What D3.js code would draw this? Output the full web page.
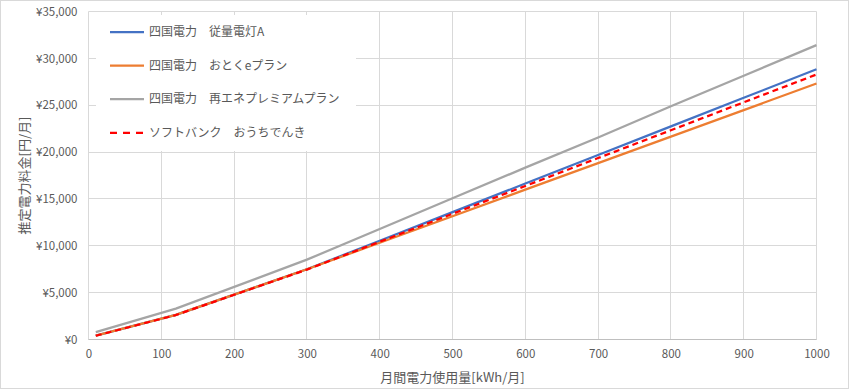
<!DOCTYPE html>
<html>
<head>
<meta charset="utf-8">
<script src="https://cdn.jsdelivr.net/npm/d3@7"></script>
<style>
  body { margin: 0; background: #fff; }
  svg text { font-family: "Noto Sans CJK JP", "Noto Sans", sans-serif; fill: #595959; }
</style>
</head>
<body>
<svg id="chart" width="849" height="390"></svg>
<script>
// usage points (kWh/month)
var usage = [10, 120, 300, 400, 500, 600, 700, 800, 900, 1000];

var juuryouA   = [412, 2630, 7490, 10540, 13590, 16640, 19690, 22740, 25790, 28840];
var otokuE     = [412, 2630, 7490, 10320, 13150, 15990, 18820, 21650, 24480, 27310];
var saiene     = [790, 3290, 8520, 11790, 15070, 18340, 21550, 24890, 28150, 31410];
var softbank   = [400, 2610, 7460, 10430, 13410, 16380, 19360, 22330, 25310, 28280];

var seriesNames = [
    '四国電力　従量電灯A',
    '四国電力　おとくeプラン',
    '四国電力　再エネプレミアムプラン',
    'ソフトバンク　おうちでんき',
];
var seriesColors = ['#4472C4', '#ED7D31', '#A5A5A5', '#FF0000'];

var xTicks = [0, 100, 200, 300, 400, 500, 600, 700, 800, 900, 1000];
var yTicks = [0, 5000, 10000, 15000, 20000, 25000, 30000, 35000];

var xTitle = '月間電力使用量[kWh/月]';
var yTitle = '推定電力料金[円/月]';

var series = [juuryouA, otokuE, saiene, softbank].map(function (vals, i) {
    return {
        name: seriesNames[i],
        color: seriesColors[i],
        dashed: i === 3,
        points: vals.map(function (v, j) { return { x: usage[j], y: v }; }),
    };
});

var svg = d3.select('#chart');

// outer frame
svg.append('rect')
    .attr('x', 0.5).attr('y', 0.5)
    .attr('width', 848).attr('height', 388)
    .attr('fill', '#fff')
    .attr('stroke', '#D9D9D9');

var plotLeft = 88.5, plotRight = 816.5, plotTop = 11.5, plotBottom = 339.5;

var x = d3.scaleLinear().domain([0, 1000]).range([plotLeft, plotRight]);
var y = d3.scaleLinear().domain([0, 35000]).range([plotBottom, plotTop]);

// gridlines
var grid = svg.append('g');
grid.selectAll('line.v')
    .data(xTicks)
    .enter()
    .append('line')
    .attr('x1', function (d) { return Math.round(x(d) - 0.5) + 0.5; })
    .attr('x2', function (d) { return Math.round(x(d) - 0.5) + 0.5; })
    .attr('y1', plotTop).attr('y2', plotBottom)
    .attr('stroke', '#D9D9D9');
grid.selectAll('line.h')
    .data(yTicks)
    .enter()
    .append('line')
    .attr('x1', plotLeft).attr('x2', plotRight)
    .attr('y1', function (d) { return Math.round(y(d) - 0.5) + 0.5; })
    .attr('y2', function (d) { return Math.round(y(d) - 0.5) + 0.5; })
    .attr('stroke', '#D9D9D9');

// axes (labels only, Excel style)
var xAxis = svg.append('g')
    .attr('transform', 'translate(0,' + plotBottom + ')')
    .call(d3.axisBottom(x).tickValues(xTicks).tickSize(0).tickPadding(10).tickFormat(d3.format('d')));
var yAxis = svg.append('g')
    .attr('transform', 'translate(' + plotLeft + ',0)')
    .call(d3.axisLeft(y).tickValues(yTicks).tickSize(0).tickPadding(11)
        .tickFormat(function (d) { return '¥' + d3.format(',')(d); }));
[xAxis, yAxis].forEach(function (a) {
    a.select('.domain').remove();
    a.selectAll('text').attr('font-size', 11.5).style('fill', '#595959')
        .attr('font-family', '"Noto Sans CJK JP", sans-serif');
});

// bottom axis line a bit darker
svg.append('line')
    .attr('x1', plotLeft).attr('x2', plotRight)
    .attr('y1', plotBottom).attr('y2', plotBottom)
    .attr('stroke', '#BFBFBF');

// titles
svg.append('text')
    .attr('x', (plotLeft + plotRight) / 2)
    .attr('y', 382)
    .attr('text-anchor', 'middle')
    .attr('font-size', 13)
    .text(xTitle);
svg.append('text')
    .attr('transform', 'translate(29,' + (plotTop + plotBottom) / 2 + ') rotate(-90)')
    .attr('text-anchor', 'middle')
    .attr('font-size', 13)
    .text(yTitle);

// lines
var line = d3.line()
    .x(function (d) { return x(d.x); })
    .y(function (d) { return y(d.y); });

svg.append('g')
    .selectAll('path')
    .data(series)
    .enter()
    .append('path')
    .attr('d', function (d) { return line(d.points); })
    .attr('fill', 'none')
    .attr('stroke', function (d) { return d.color; })
    .attr('stroke-width', 2.25)
    .attr('stroke-linejoin', 'round')
    .attr('stroke-dasharray', function (d) { return d.dashed ? '6,4' : null; });

// legend
var legend = svg.append('g');
legend.append('rect')
    .attr('x', 96).attr('y', 15)
    .attr('width', 260).attr('height', 136)
    .attr('fill', '#fff');
var item = legend.selectAll('g.item')
    .data(series)
    .enter()
    .append('g')
    .attr('transform', function (d, i) { return 'translate(110,' + (32 + i * 33.6) + ')'; });
item.append('line')
    .attr('x1', 0).attr('x2', 34)
    .attr('stroke', function (d) { return d.color; })
    .attr('stroke-width', 2.25)
    .attr('stroke-dasharray', function (d) { return d.dashed ? '7,6' : null; });
item.append('text')
    .attr('x', 39)
    .attr('dy', '0.35em')
    .attr('font-size', 12)
    .text(function (d) { return d.name; });
</script>
</body>
</html>
